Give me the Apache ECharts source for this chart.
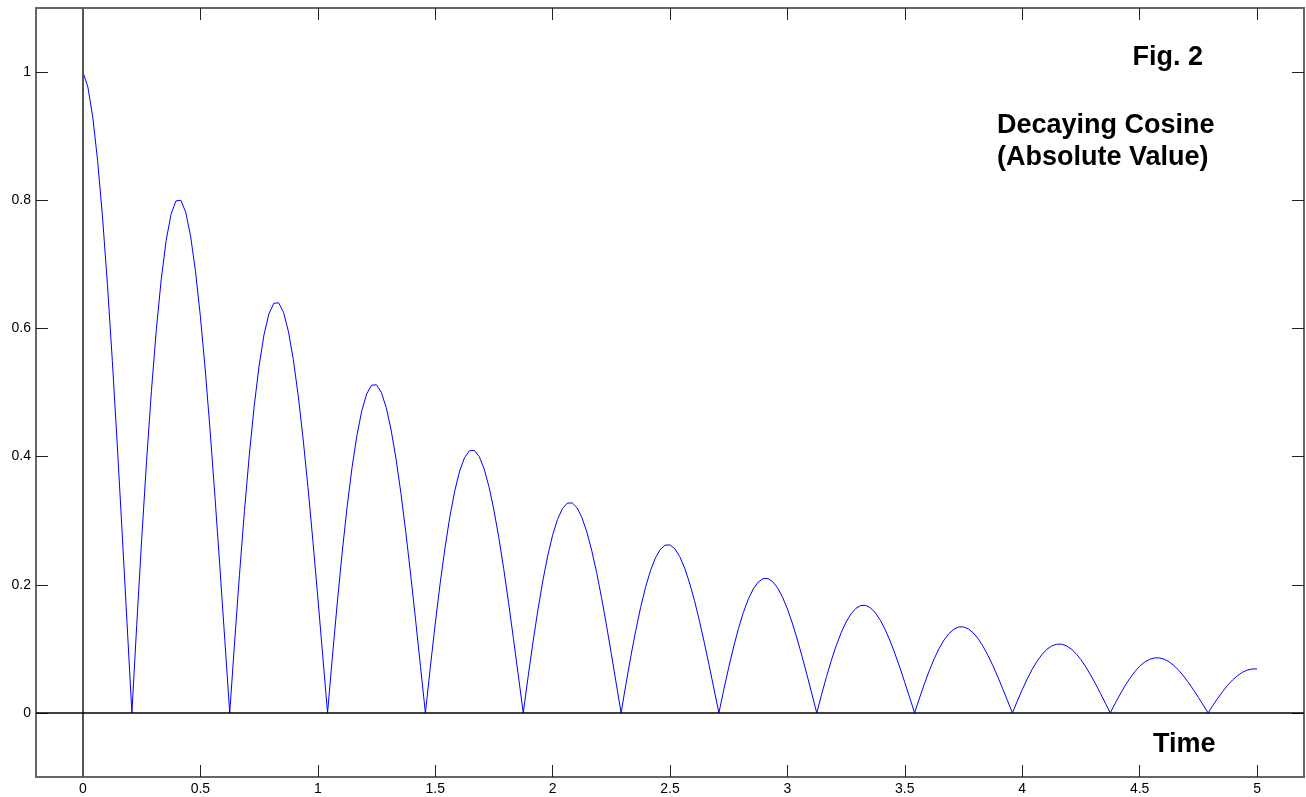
<!DOCTYPE html>
<html>
<head>
<meta charset="utf-8">
<title>Decaying Cosine (Absolute Value)</title>
<script src="https://cdn.jsdelivr.net/npm/echarts@6/dist/echarts.min.js"></script>
<style>
  html, body { margin: 0; padding: 0; background: #ffffff; }
  #chart { width: 1306px; height: 797px; }
</style>
</head>
<body>
<div id="chart"></div>
<script>
// Signal sampled at a fixed rate, starting at t = 0 s.
const sampleRate = 48; // samples per second

// |signal| at each sample, one row per half-period lobe (20 samples each).
const amplitude = [
  1.0000, 0.9767, 0.9301, 0.8617, 0.7737, 0.6687, 0.5497, 0.4199, 0.2826, 0.1415,
  0.0000, 0.1384, 0.2703, 0.3927, 0.5028, 0.5981, 0.6768, 0.7371, 0.7780, 0.7990,
  0.8000, 0.7814, 0.7441, 0.6893, 0.6190, 0.5350, 0.4398, 0.3359, 0.2261, 0.1132,
  0.0000, 0.1107, 0.2162, 0.3142, 0.4022, 0.4785, 0.5414, 0.5897, 0.6224, 0.6392,
  0.6400, 0.6251, 0.5952, 0.5515, 0.4952, 0.4280, 0.3518, 0.2687, 0.1809, 0.0906,
  0.0000, 0.0886, 0.1730, 0.2513, 0.3218, 0.3828, 0.4331, 0.4717, 0.4979, 0.5114,
  0.5120, 0.5001, 0.4762, 0.4412, 0.3961, 0.3424, 0.2815, 0.2150, 0.1447, 0.0724,
  0.0000, 0.0708, 0.1384, 0.2011, 0.2574, 0.3062, 0.3465, 0.3774, 0.3983, 0.4091,
  0.4096, 0.4001, 0.3810, 0.3529, 0.3169, 0.2739, 0.2252, 0.1720, 0.1158, 0.0580,
  0.0000, 0.0567, 0.1107, 0.1608, 0.2059, 0.2450, 0.2772, 0.3019, 0.3187, 0.3273,
  0.3277, 0.3201, 0.3048, 0.2824, 0.2535, 0.2191, 0.1801, 0.1376, 0.0926, 0.0464,
  0.0000, 0.0453, 0.0886, 0.1287, 0.1648, 0.1960, 0.2218, 0.2415, 0.2549, 0.2618,
  0.2621, 0.2560, 0.2438, 0.2259, 0.2028, 0.1753, 0.1441, 0.1101, 0.0741, 0.0371,
  0.0000, 0.0363, 0.0709, 0.1029, 0.1318, 0.1568, 0.1774, 0.1932, 0.2039, 0.2095,
  0.2097, 0.2048, 0.1950, 0.1807, 0.1623, 0.1402, 0.1153, 0.0881, 0.0593, 0.0297,
  0.0000, 0.0290, 0.0567, 0.0824, 0.1054, 0.1254, 0.1419, 0.1546, 0.1632, 0.1676,
  0.1678, 0.1639, 0.1560, 0.1446, 0.1298, 0.1122, 0.0922, 0.0704, 0.0474, 0.0237,
  0.0000, 0.0232, 0.0453, 0.0659, 0.0844, 0.1004, 0.1135, 0.1237, 0.1305, 0.1341,
  0.1342, 0.1311, 0.1248, 0.1157, 0.1038, 0.0898, 0.0738, 0.0564, 0.0379, 0.0190,
  0.0000, 0.0186, 0.0363, 0.0527, 0.0675, 0.0803, 0.0908, 0.0989, 0.1044, 0.1072,
  0.1074, 0.1049, 0.0999, 0.0925, 0.0831, 0.0718, 0.0590, 0.0451, 0.0303, 0.0152,
  0.0000, 0.0149, 0.0290, 0.0422, 0.0540, 0.0642, 0.0727, 0.0791, 0.0835, 0.0858,
  0.0859, 0.0839, 0.0799, 0.0740, 0.0665, 0.0574, 0.0472, 0.0361, 0.0243, 0.0122,
  0.0000, 0.0119, 0.0232, 0.0337, 0.0432, 0.0514, 0.0581, 0.0633, 0.0668, 0.0686,
  0.0687
];

// Axis ticks and labels
const xTicks = [0, 0.5, 1, 1.5, 2, 2.5, 3, 3.5, 4, 4.5, 5];
const yTicks = [0, 0.2, 0.4, 0.6, 0.8, 1];

// Annotation text
const figLabel = 'Fig. 2';
const titleLines = ['Decaying Cosine', '(Absolute Value)'];
const xName = 'Time';

const points = amplitude.map((v, i) => [i / sampleRate, v]);

const FONT = "'Liberation Sans', Arial, sans-serif";
const hiddenLine = { show: false, onZero: false };
const tickStyle = { show: true, inside: true, length: 12, lineStyle: { color: '#222', width: 1 } };

const chart = echarts.init(document.getElementById('chart'), null, { renderer: 'canvas' });

chart.setOption({
  animation: false,
  backgroundColor: '#ffffff',
  grid: {
    left: 36, right: 2, top: 8, bottom: 20,
    show: true, borderColor: '#666', borderWidth: 2, backgroundColor: '#ffffff'
  },
  xAxis: [
    {
      type: 'value', position: 'bottom', min: -0.2, max: 5.2,
      axisLine: hiddenLine,
      splitLine: { show: false },
      axisTick: Object.assign({ customValues: xTicks }, tickStyle),
      axisLabel: {
        customValues: xTicks, margin: 5, color: '#000',
        fontFamily: FONT, fontSize: 14
      }
    },
    {
      type: 'value', position: 'top', min: -0.2, max: 5.2,
      axisLine: hiddenLine,
      splitLine: { show: false },
      axisTick: Object.assign({ customValues: xTicks }, tickStyle),
      axisLabel: { show: false }
    }
  ],
  yAxis: [
    {
      type: 'value', position: 'left', min: -0.1, max: 1.1,
      axisLine: hiddenLine,
      splitLine: { show: false },
      axisTick: Object.assign({ customValues: yTicks }, tickStyle),
      axisLabel: {
        customValues: yTicks, margin: 5, color: '#000',
        fontFamily: FONT, fontSize: 14
      }
    },
    {
      type: 'value', position: 'right', min: -0.1, max: 1.1,
      axisLine: hiddenLine,
      splitLine: { show: false },
      axisTick: Object.assign({ customValues: yTicks }, tickStyle),
      axisLabel: { show: false }
    }
  ],
  series: [
    {
      type: 'line',
      data: points,
      xAxisIndex: 0,
      yAxisIndex: 0,
      showSymbol: false,
      smooth: false,
      lineStyle: { color: '#0000ff', width: 1 },
      z: 3,
      markLine: {
        silent: true,
        symbol: 'none',
        label: { show: false },
        animation: false,
        data: [
          { xAxis: 0, lineStyle: { color: '#555', width: 2, type: 'solid' } },
          { yAxis: 0, lineStyle: { color: '#000', width: 1.5, type: 'solid' } }
        ]
      }
    }
  ],
  graphic: [
    {
      type: 'text', x: 1203, y: 58, z: 10,
      style: { text: figLabel, font: 'bold 27px ' + FONT, fill: '#000', align: 'right', verticalAlign: 'middle' }
    },
    {
      type: 'text', x: 997, y: 126, z: 10,
      style: { text: titleLines[0], font: 'bold 27px ' + FONT, fill: '#000', align: 'left', verticalAlign: 'middle' }
    },
    {
      type: 'text', x: 997, y: 158, z: 10,
      style: { text: titleLines[1], font: 'bold 27px ' + FONT, fill: '#000', align: 'left', verticalAlign: 'middle' }
    },
    {
      type: 'text', x: 1153, y: 745, z: 10,
      style: { text: xName, font: 'bold 27px ' + FONT, fill: '#000', align: 'left', verticalAlign: 'middle' }
    }
  ]
});
</script>
</body>
</html>
